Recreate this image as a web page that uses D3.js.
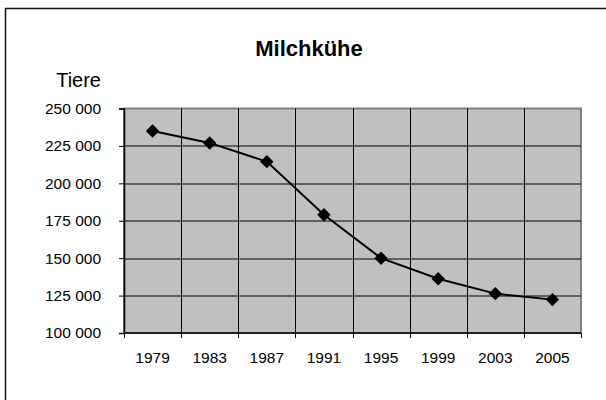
<!DOCTYPE html>
<html>
<head>
<meta charset="utf-8">
<script src="https://cdn.jsdelivr.net/npm/d3@7"></script>
<style>
  body { margin: 0; background: #fff; }
  text { font-family: Arial, "Liberation Sans", sans-serif; }
</style>
</head>
<body>
<div id="chart"></div>
<script>
// data
var years = ["1979", "1983", "1987", "1991", "1995", "1999", "2003", "2005"];
var cows = [235000, 227000, 214500, 179000, 150000, 136300, 126300, 122300];
var yTicks = [100000, 125000, 150000, 175000, 200000, 225000, 250000];

var margin = {top: 108.5, right: 25, bottom: 67, left: 124},
    W = 606, H = 400,
    width = W - margin.left - margin.right,
    height = H - margin.top - margin.bottom;

var root = d3.select("#chart").append("svg")
    .attr("width", W)
    .attr("height", H);

// outer chart frame (right/bottom run off the picture)
root.append("rect")
    .attr("x", 5.5).attr("y", 8.5)
    .attr("width", 700).attr("height", 500)
    .attr("fill", "none")
    .attr("stroke", "#111")
    .attr("stroke-width", 1.5);

root.append("text")
    .attr("x", 309).attr("y", 56)
    .attr("text-anchor", "middle")
    .style("font-size", "22px")
    .style("font-weight", "bold")
    .text("Milchkühe");

root.append("text")
    .attr("x", 101).attr("y", 87)
    .attr("text-anchor", "end")
    .style("font-size", "20px")
    .text("Tiere");

var svg = root.append("g")
    .attr("transform", "translate(" + margin.left + "," + margin.top + ")");

var x = d3.scaleBand().domain(years).range([0, width]);
var y = d3.scaleLinear().domain([100000, 250000]).range([height, 0]);

// plot area
svg.append("rect")
    .attr("width", width).attr("height", height)
    .attr("fill", "#c0c0c0")
    .attr("stroke", "#808080")
    .attr("stroke-width", 2);

// horizontal grid
svg.append("g")
    .selectAll("line")
    .data(yTicks.slice(1, -1))
    .enter().append("line")
    .attr("x1", 0).attr("x2", width)
    .attr("y1", function(d) { return Math.round(y(d)) + 0.5; })
    .attr("y2", function(d) { return Math.round(y(d)) + 0.5; })
    .attr("stroke", "#000");

// vertical grid at category borders
svg.append("g")
    .selectAll("line")
    .data(years.slice(1))
    .enter().append("line")
    .attr("x1", function(d) { return Math.round(x(d)) + 0.5; })
    .attr("x2", function(d) { return Math.round(x(d)) + 0.5; })
    .attr("y1", 0).attr("y2", height)
    .attr("stroke", "#000");

// y axis
var yAxis = svg.append("g")
    .call(d3.axisLeft(y).tickValues(yTicks).tickSize(5).tickPadding(18)
        .tickFormat(function(d) { return d3.format(",")(d).replace(",", " "); }));
yAxis.select(".domain").attr("stroke", "#000").attr("stroke-width", 1.5);
yAxis.selectAll("text").style("font-size", "15.5px").attr("fill", "#000")
    .style("font-family", "Arial, 'Liberation Sans', sans-serif");

// x axis, ticks on the category borders
var xAxis = svg.append("g")
    .attr("transform", "translate(0," + height + ")")
    .call(d3.axisBottom(x).tickSize(0).tickPadding(19));
xAxis.select(".domain").remove();
xAxis.selectAll("text").style("font-size", "15.5px").attr("fill", "#000")
    .style("font-family", "Arial, 'Liberation Sans', sans-serif");
xAxis.append("line")
    .attr("x1", 0).attr("x2", width)
    .attr("stroke", "#000").attr("stroke-width", 1.5);
xAxis.selectAll(".brd")
    .data(years.concat(["end"]))
    .enter().append("line")
    .attr("class", "brd")
    .attr("x1", function(d, i) { return Math.round(i * x.bandwidth()) + 0.5; })
    .attr("x2", function(d, i) { return Math.round(i * x.bandwidth()) + 0.5; })
    .attr("y1", 0).attr("y2", 5)
    .attr("stroke", "#000");

// the line
var line = d3.line()
    .x(function(d, i) { return x(years[i]) + x.bandwidth() / 2; })
    .y(function(d) { return y(d); });

svg.append("path")
    .datum(cows)
    .attr("d", line)
    .attr("fill", "none")
    .attr("stroke", "#000")
    .attr("stroke-width", 2);

// diamond markers
svg.selectAll(".pt")
    .data(cows)
    .enter().append("path")
    .attr("class", "pt")
    .attr("d", d3.symbol().type(d3.symbolDiamond2).size(115))
    .attr("transform", function(d, i) {
        return "translate(" + (x(years[i]) + x.bandwidth() / 2) + "," + y(d) + ")";
    })
    .attr("fill", "#000");
</script>
</body>
</html>
